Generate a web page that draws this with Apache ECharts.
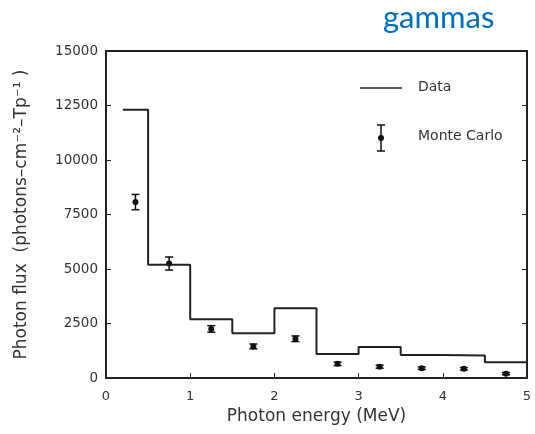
<!DOCTYPE html>
<html>
<head>
<meta charset="utf-8">
<script src="https://cdn.jsdelivr.net/npm/echarts@6/dist/echarts.min.js"></script>
<style>
  html, body { margin: 0; padding: 0; background: #fff; }
  #chart { width: 535px; height: 434px; }
</style>
</head>
<body>
<div id="chart"></div>
<script>
// measured histogram (bin edges in MeV, flux per bin)
const binEdges = [0.2, 0.5, 1.0, 1.5, 2.0, 2.5, 3.0, 3.5, 4.0, 4.5, 5.0];
const dataFlux = [12300, 5200, 2700, 2050, 3200, 1100, 1420, 1050, 1030, 720];

// Monte Carlo points with errors
const mcEnergy = [0.35, 0.75, 1.25, 1.75, 2.25, 2.75, 3.25, 3.75, 4.25, 4.75];
const mcFlux   = [8070, 5250, 2250, 1450, 1800, 650, 520, 450, 420, 200];
const mcError  = [350, 300, 150, 110, 130, 80, 70, 60, 60, 50];

const yTicks = [0, 2500, 5000, 7500, 10000, 12500, 15000];

const stepData = binEdges.map((x, i) => [x, dataFlux[Math.min(i, dataFlux.length - 1)]]);
const mcData = mcEnergy.map((x, i) => [x, mcFlux[i], mcFlux[i] - mcError[i], mcFlux[i] + mcError[i]]);

const myChart = echarts.init(document.getElementById('chart'));
const font = 'DejaVu Sans';
const txt = '#333';

const option = {
  animation: false,
  grid: { left: 106, right: 8, top: 51, bottom: 56 },
  xAxis: [{
    type: 'value', min: 0, max: 5, interval: 1,
    name: 'Photon energy (MeV)', nameLocation: 'middle', nameGap: 28,
    nameTextStyle: { color: txt, fontSize: 17, fontFamily: font },
    axisLine: { show: true, onZero: false, lineStyle: { color: '#222', width: 2 } },
    axisTick: { show: true, inside: true, length: 5, lineStyle: { color: '#222' } },
    axisLabel: { color: txt, fontSize: 13, fontFamily: font, margin: 12 },
    splitLine: { show: false }
  }, {
    type: 'value', min: 0, max: 5, interval: 1, position: 'top',
    axisLine: { show: true, onZero: false, lineStyle: { color: '#222', width: 2 } },
    axisTick: { show: false }, axisLabel: { show: false }, splitLine: { show: false }
  }],
  yAxis: [{
    type: 'value', min: 0, max: 15000, interval: 2500,
    name: 'Photon flux  (photons\u2013cm\u207B\u00B2\u2013Tp\u207B\u00B9 )',
    nameLocation: 'middle', nameGap: 76,
    nameTextStyle: { color: txt, fontSize: 17, fontFamily: font },
    axisLine: { show: true, onZero: false, lineStyle: { color: '#222', width: 2 } },
    axisTick: { show: true, inside: true, length: 5, lineStyle: { color: '#222' } },
    axisLabel: { color: txt, fontSize: 13.5, fontFamily: font, margin: 8,
      formatter: v => yTicks.includes(v) ? String(v) : '' },
    splitLine: { show: false }
  }, {
    type: 'value', min: 0, max: 15000, interval: 2500, position: 'right',
    axisLine: { show: true, onZero: false, lineStyle: { color: '#222', width: 2 } },
    axisTick: { show: true, inside: true, length: 5, lineStyle: { color: '#222' } },
    axisLabel: { show: false }, splitLine: { show: false }
  }],
  series: [{
    name: 'Data',
    type: 'line',
    step: 'end',
    symbol: 'none',
    lineStyle: { color: '#222', width: 2 },
    data: stepData
  }, {
    name: 'Monte Carlo',
    type: 'custom',
    renderItem: function (params, api) {
      const c = api.coord([api.value(0), api.value(1)]);
      const lo = api.coord([api.value(0), api.value(2)]);
      const hi = api.coord([api.value(0), api.value(3)]);
      const cap = 4;
      const st = { stroke: '#111', lineWidth: 1.5 };
      return {
        type: 'group',
        children: [
          { type: 'line', shape: { x1: c[0], y1: lo[1], x2: c[0], y2: hi[1] }, style: st },
          { type: 'line', shape: { x1: c[0] - cap, y1: lo[1], x2: c[0] + cap, y2: lo[1] }, style: st },
          { type: 'line', shape: { x1: c[0] - cap, y1: hi[1], x2: c[0] + cap, y2: hi[1] }, style: st },
          { type: 'circle', shape: { cx: c[0], cy: c[1], r: 3 }, style: { fill: '#111' } }
        ]
      };
    },
    encode: { x: 0, y: 1 },
    data: mcData
  }],
  graphic: [
    { type: 'text', left: 383, top: 2,
      style: { text: 'gammas', fill: '#0070C0', fontSize: 31, fontFamily: 'Lato' } },
    // legend
    { type: 'line', shape: { x1: 360, y1: 88, x2: 402, y2: 88 }, style: { stroke: '#222', lineWidth: 1.5 } },
    { type: 'text', left: 418, top: 80, style: { text: 'Data', fill: txt, fontSize: 14, fontFamily: font } },
    { type: 'line', shape: { x1: 381, y1: 125, x2: 381, y2: 151 }, style: { stroke: '#111', lineWidth: 1.5 } },
    { type: 'line', shape: { x1: 377, y1: 125, x2: 385, y2: 125 }, style: { stroke: '#111', lineWidth: 1.5 } },
    { type: 'line', shape: { x1: 377, y1: 151, x2: 385, y2: 151 }, style: { stroke: '#111', lineWidth: 1.5 } },
    { type: 'circle', shape: { cx: 381, cy: 138, r: 3 }, style: { fill: '#111' } },
    { type: 'text', left: 418, top: 129, style: { text: 'Monte Carlo', fill: txt, fontSize: 14, fontFamily: font } }
  ]
};

myChart.setOption(option);
</script>
</body>
</html>
